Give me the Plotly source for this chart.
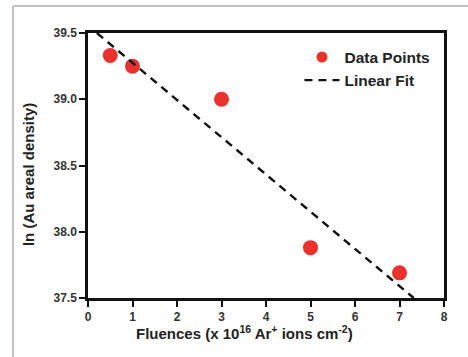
import plotly.graph_objects as go

# Data
fluence = [0.5, 1.0, 3.0, 5.0, 7.0]
ln_density = [39.33, 39.25, 39.0, 37.88, 37.69]

# Linear fit line (end points)
fit_x = [0.2, 7.32]
fit_y = [39.5, 37.5]

x_ticks = [0, 1, 2, 3, 4, 5, 6, 7, 8]
y_ticks = [37.5, 38.0, 38.5, 39.0, 39.5]
y_tick_text = ["37.5", "38.0", "38.5", "39.0", "39.5"]

x_title = "Fluences (x 10<sup>16</sup> Ar<sup>+</sup> ions cm<sup>-2</sup>)"
y_title = "ln (Au areal density)"

FONT = "Liberation Sans, Arial, sans-serif"
RED = "#e8322b"

fig = go.Figure()
fig.add_trace(go.Scatter(
    x=fluence, y=ln_density, mode="markers", name="Data Points",
    marker=dict(color=RED, size=15, line=dict(width=0)),
    cliponaxis=False, showlegend=False, legendgroup="d",
))
# legend-only entry with a smaller marker (as in the reference legend)
fig.add_trace(go.Scatter(
    x=[None], y=[None], mode="markers", name="Data Points",
    marker=dict(color=RED, size=11, line=dict(width=0)),
    legendgroup="d",
))
fig.add_trace(go.Scatter(
    x=fit_x, y=fit_y, mode="lines", name="Linear Fit",
    line=dict(color="#111111", width=2.4, dash="8px,6px"),
))

axis_common = dict(
    showgrid=False, zeroline=False, showline=True, linecolor="#111111",
    linewidth=2.5, mirror=True, ticks="outside", tickwidth=2,
    tickcolor="#111111", ticklen=6,
    tickfont=dict(family=FONT, size=12, color="#333333", weight="bold"),
)

title_font = dict(family=FONT, size=15, color="#222222", weight="bold")

fig.update_layout(
    width=468, height=357,
    margin=dict(l=88, r=24, t=33, b=59),
    paper_bgcolor="white", plot_bgcolor="white",
    showlegend=True,
    legend=dict(
        x=0.594, y=0.972, xanchor="left", yanchor="top",
        bgcolor="rgba(0,0,0,0)", borderwidth=0,
        font=dict(family=FONT, size=15.5, color="#222222", weight="bold"),
        itemwidth=35, tracegroupgap=0,
    ),
    xaxis=dict(range=[0, 8], tickvals=x_ticks, **axis_common),
    yaxis=dict(range=[37.5, 39.5], tickvals=y_ticks, ticktext=y_tick_text,
               **axis_common),
    annotations=[
        dict(text=x_title, xref="paper", yref="paper", x=0.441, y=-0.132,
             xanchor="center", yanchor="middle", showarrow=False, font=title_font),
        dict(text=y_title, xref="paper", yref="paper", x=-0.1685, y=0.464,
             xanchor="center", yanchor="middle", showarrow=False,
             textangle=-90, font=title_font),
    ],
    shapes=[
        dict(type="line", xref="paper", yref="paper",
             x0=-0.2107, x1=-0.2107, y0=1.1019, y1=-0.25,
             line=dict(color="#c9bfc1", width=2)),
        dict(type="line", xref="paper", yref="paper",
             x0=-0.2107, x1=1.1, y0=1.1019, y1=1.1019,
             line=dict(color="#c9bfc1", width=2)),
    ],
)

fig.write_html("out.html")
